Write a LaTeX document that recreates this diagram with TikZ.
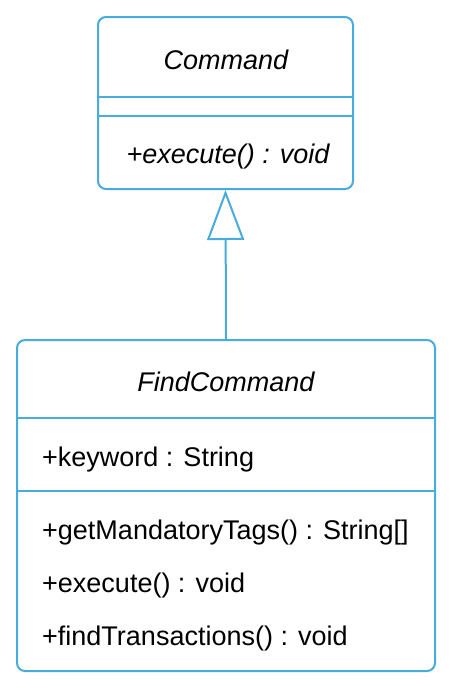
\documentclass[tikz,border=0pt]{standalone}
\usepackage{fontspec}
\setmainfont{Liberation Sans}
\usetikzlibrary{arrows.meta}
\definecolor{umlblue}{RGB}{72,172,220}
\tikzset{
	classbox/.style={draw=umlblue,line width=2pt,rounded corners=8pt,fill=white},
	sepline/.style={draw=umlblue,line width=2pt},
	member/.style={anchor=west,inner sep=0pt,font=\fontsize{27}{31}\selectfont},
	classname/.style={inner sep=0pt,font=\fontsize{27}{31}\selectfont\itshape},
	extends/.style={draw=umlblue,line width=2pt,-{Triangle[open,length=50pt,width=37pt,line width=2pt]}}
}
\begin{document}
\begin{tikzpicture}[x=1pt,y=-1pt]
		\useasboundingbox[fill=white](0,0) rectangle (450,688);
	
		\node[classbox,minimum width=255pt,minimum height=172pt](command) at (225.5,103){};
		\draw[sepline](98,97)--(353,97);
		\draw[sepline](98,116)--(353,116);
		\node[classname](commandname) at (226,60){Command};
		\node[classname](commandexec) at (228,157){+execute() : void};
	
		\node[classbox,minimum width=418pt,minimum height=331pt](find) at (226,505.5){};
		\draw[sepline](17,418)--(435,418);
		\draw[sepline](17,491)--(435,491);
		\node[classname](findname) at (226,382){FindCommand};
		\node[member](findkeyword) at (42,460){+keyword : String};
		\node[member](findtags) at (42,533){+getMandatoryTags() : String[]};
		\node[member](findexec) at (42,586){+execute() : void};
		\node[member](findtrans) at (42,639){+findTransactions() : void};
	
		\draw[extends](find.north)--(command.south);
	
	\end{tikzpicture}
\end{document}
